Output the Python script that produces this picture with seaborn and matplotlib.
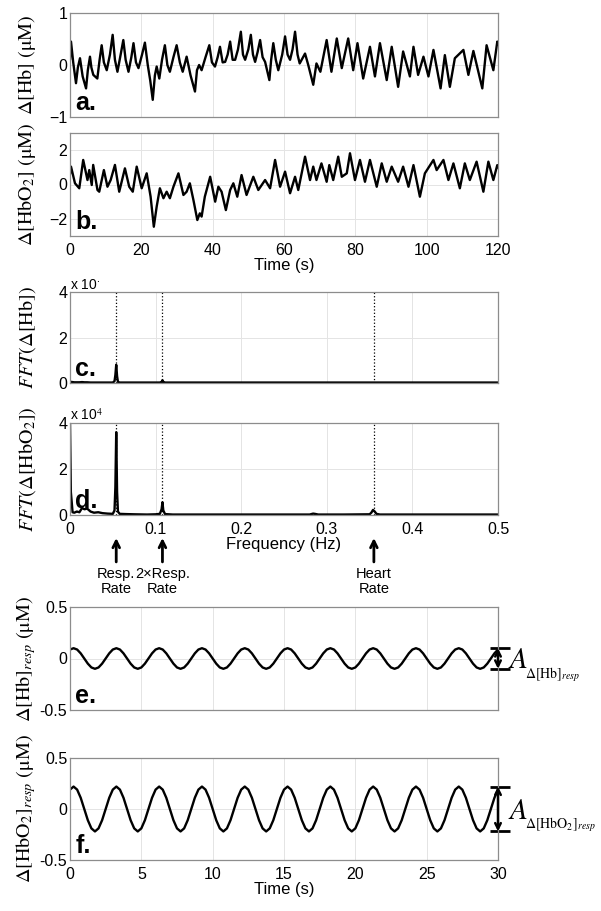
import matplotlib
matplotlib.use("Agg")
import matplotlib.pyplot as plt
import seaborn as sns

# ---- a./b. raw signals over 120 s ----
hb_t = [0.0, 0.28, 0.9, 1.68, 2.2, 2.8, 3.55, 4.5, 5.0, 5.6, 6.0, 6.54, 7.66, 8.3, 8.88,
        9.5, 10.3, 11.2, 11.96, 12.6, 13.3, 14.2, 14.95, 15.6, 16.4, 17.2, 17.8, 18.5,
        19.2, 20.2, 21.0, 21.8, 22.5, 23.2, 23.8, 24.3, 25.04, 25.8, 26.6, 27.3, 28.0,
        29.0, 29.9, 30.8, 31.6, 32.7, 33.8, 35.04, 35.6, 36.2, 36.9, 38.0, 39.06, 39.8,
        40.65, 41.4, 42.05, 42.8, 43.5, 44.2, 44.9, 45.6, 46.3, 47.1, 47.9, 48.5, 49.1,
        50.0, 50.7, 51.3, 51.9, 52.6, 53.3, 54.0, 54.7, 55.9, 56.4, 57.0, 57.7, 58.4,
        59.5, 60.3, 61.0, 61.7, 62.4, 63.1, 63.8, 64.4, 65.9, 66.8, 68.2, 69.1, 70.2,
        71.96, 73.3, 74.8, 76.2, 78.0, 79.4, 80.6, 82.2, 84.1, 85.5, 86.9, 88.8, 90.2,
        92.0, 93.4, 95.3, 96.3, 97.6, 99.1, 100.5, 101.9, 103.9, 105.1, 106.5, 107.9,
        110.3, 111.7, 113.1, 115.6, 116.8, 118.7, 119.8, 120.0]
hb_v = [0.1, 0.45, 0.05, -0.35, -0.05, 0.13, -0.22, -0.45, -0.1, 0.16, -0.05, -0.19, -0.26,
        0.1, 0.38, 0.05, -0.1, 0.2, 0.58, 0.1, -0.13, 0.2, 0.48, 0.1, -0.13, 0.15, 0.42,
        0.05, -0.06, 0.2, 0.43, 0.0, -0.3, -0.67, -0.2, -0.03, -0.26, 0.1, 0.38, 0.0, -0.13,
        0.15, 0.38, 0.05, -0.13, 0.16, -0.2, -0.51, -0.1, 0.0, -0.1, 0.15, 0.38, 0.05,
        -0.03, 0.15, 0.35, 0.05, 0.06, 0.2, 0.45, 0.1, 0.1, 0.3, 0.64, 0.2, 0.1, 0.3, 0.58,
        0.2, 0.06, 0.25, 0.48, 0.15, 0.06, -0.29, 0.1, 0.42, 0.1, -0.1, 0.2, 0.55, 0.2,
        0.1, 0.3, 0.64, 0.2, 0.03, 0.22, 0.0, -0.38, 0.03, -0.13, 0.48, -0.13, 0.51, -0.06,
        0.51, -0.1, 0.42, -0.26, 0.35, -0.22, 0.42, -0.29, 0.35, -0.42, 0.26, -0.22, 0.35,
        -0.19, 0.16, -0.22, 0.29, -0.45, 0.19, -0.42, 0.13, 0.29, -0.19, 0.27, -0.45, 0.38,
        -0.1, 0.45, 0.4]

hbo2_t = [0.0, 0.28, 1.4, 2.6, 3.7, 4.9, 5.4, 6.1, 6.5, 7.7, 8.2, 9.5, 10.5, 11.4, 12.6,
          13.8, 15.4, 16.6, 17.6, 18.7, 20.1, 21.5, 22.6, 23.5, 24.3, 25.2, 26.2, 27.1,
          28.0, 29.0, 30.4, 31.8, 32.7, 33.6, 34.6, 35.7, 36.4, 36.9, 37.8, 39.3, 40.7,
          41.6, 42.5, 43.7, 44.9, 45.8, 46.9, 48.1, 49.5, 51.4, 52.8, 54.7, 56.1, 57.5,
          58.9, 60.3, 61.7, 63.1, 64.0, 65.9, 67.3, 68.2, 69.1, 70.5, 71.96, 72.7, 73.8,
          75.2, 76.2, 77.6, 78.5, 79.9, 81.3, 82.7, 84.1, 86.0, 87.4, 88.8, 90.2, 92.0,
          93.4, 94.9, 96.3, 98.1, 99.5, 101.9, 102.8, 104.7, 106.1, 107.5, 109.3, 110.7,
          112.1, 114.0, 115.9, 117.3, 118.7, 119.8, 120.0]
hbo2_v = [0.6, 1.04, 0.07, -0.22, 1.43, 0.26, 0.84, -0.03, 1.14, -0.32, -0.42, 0.84, -0.13,
          0.26, 1.14, -0.42, 0.94, -0.13, -0.42, 1.04, -0.22, 0.65, -0.71, -2.46, -1.29,
          -0.22, -0.8, -0.42, -0.8, -0.13, 0.65, -0.61, -0.42, 0.07, -0.9, -2.07, -1.68,
          -1.87, -0.71, 0.45, -1.0, -0.13, -0.42, -1.49, -0.32, 0.07, -0.71, 0.55, -0.61,
          0.45, -0.32, 0.26, -0.22, 1.43, -0.13, 0.75, -0.51, 0.45, -0.32, 1.62, 0.26, 1.04,
          0.26, 1.23, 0.16, 1.13, 0.26, 1.62, 0.45, 0.65, 1.82, 0.26, 1.43, 0.16, 1.43,
          -0.13, 1.23, 0.16, 1.04, 0.16, 1.04, -0.13, 1.13, -0.71, 0.65, 1.43, 0.84, 1.43,
          0.26, 1.23, -0.22, 1.23, 0.26, 1.33, -0.42, 1.33, 0.26, 1.13, 1.0]

# ---- c./d. spectra ----
fft_freq = [0.0, 0.001, 0.003, 0.005, 0.008, 0.011, 0.014, 0.017, 0.02, 0.024, 0.028, 0.033,
            0.038, 0.044, 0.05, 0.052, 0.053, 0.054, 0.055, 0.056, 0.058, 0.065, 0.075, 0.09,
            0.1, 0.105, 0.107, 0.108, 0.109, 0.111, 0.12, 0.15, 0.2, 0.25, 0.28, 0.284, 0.286,
            0.29, 0.32, 0.35, 0.352, 0.354, 0.356, 0.358, 0.362, 0.4, 0.45, 0.5]
fft_hb = [0.06, 0.05, 0.04, 0.03, 0.03, 0.03, 0.04, 0.03, 0.03, 0.02, 0.02, 0.02, 0.02, 0.02,
          0.02, 0.08, 0.35, 0.8, 0.3, 0.05, 0.02, 0.02, 0.02, 0.02, 0.02, 0.02, 0.05, 0.12,
          0.05, 0.02, 0.02, 0.02, 0.02, 0.02, 0.02, 0.02, 0.02, 0.02, 0.02, 0.02, 0.02, 0.02,
          0.02, 0.02, 0.02, 0.02, 0.02, 0.02]
fft_hbo2 = [4.0, 1.0, 0.12, 0.1, 0.15, 0.12, 0.3, 0.25, 0.28, 0.15, 0.1, 0.12, 0.08, 0.06,
            0.05, 0.2, 1.2, 3.6, 1.0, 0.15, 0.05, 0.04, 0.03, 0.02, 0.03, 0.05, 0.25, 0.55,
            0.2, 0.04, 0.02, 0.02, 0.02, 0.02, 0.02, 0.06, 0.05, 0.02, 0.02, 0.03, 0.1, 0.22,
            0.15, 0.05, 0.02, 0.02, 0.02, 0.02]
peak_freqs = [0.054, 0.108, 0.355]
peak_names = ["Resp.\nRate", "2×Resp.\nRate", "Heart\nRate"]

# ---- e./f. respiratory components over 30 s ----
resp_t = [0.0, 0.25, 0.5, 0.75, 1.0, 1.25, 1.5, 1.75, 2.0, 2.25, 2.5, 2.75,
          3.0, 3.25, 3.5, 3.75, 4.0, 4.25, 4.5, 4.75, 5.0, 5.25, 5.5, 5.75,
          6.0, 6.25, 6.5, 6.75, 7.0, 7.25, 7.5, 7.75, 8.0, 8.25, 8.5, 8.75,
          9.0, 9.25, 9.5, 9.75, 10.0, 10.25, 10.5, 10.75, 11.0, 11.25, 11.5, 11.75,
          12.0, 12.25, 12.5, 12.75, 13.0, 13.25, 13.5, 13.75, 14.0, 14.25, 14.5, 14.75,
          15.0, 15.25, 15.5, 15.75, 16.0, 16.25, 16.5, 16.75, 17.0, 17.25, 17.5, 17.75,
          18.0, 18.25, 18.5, 18.75, 19.0, 19.25, 19.5, 19.75, 20.0, 20.25, 20.5, 20.75,
          21.0, 21.25, 21.5, 21.75, 22.0, 22.25, 22.5, 22.75, 23.0, 23.25, 23.5, 23.75,
          24.0, 24.25, 24.5, 24.75, 25.0, 25.25, 25.5, 25.75, 26.0, 26.25, 26.5, 26.75,
          27.0, 27.25, 27.5, 27.75, 28.0, 28.25, 28.5, 28.75, 29.0, 29.25, 29.5, 29.75,
          30.0]
hb_resp = [0.087, 0.1, 0.087, 0.05, 0.0, -0.05, -0.087, -0.1, -0.087, -0.05, 0.0, 0.05,
           0.087, 0.1, 0.087, 0.05, 0.0, -0.05, -0.087, -0.1, -0.087, -0.05, 0.0, 0.05,
           0.087, 0.1, 0.087, 0.05, 0.0, -0.05, -0.087, -0.1, -0.087, -0.05, 0.0, 0.05,
           0.087, 0.1, 0.087, 0.05, 0.0, -0.05, -0.087, -0.1, -0.087, -0.05, 0.0, 0.05,
           0.087, 0.1, 0.087, 0.05, 0.0, -0.05, -0.087, -0.1, -0.087, -0.05, 0.0, 0.05,
           0.087, 0.1, 0.087, 0.05, 0.0, -0.05, -0.087, -0.1, -0.087, -0.05, 0.0, 0.05,
           0.087, 0.1, 0.087, 0.05, 0.0, -0.05, -0.087, -0.1, -0.087, -0.05, 0.0, 0.05,
           0.087, 0.1, 0.087, 0.05, 0.0, -0.05, -0.087, -0.1, -0.087, -0.05, 0.0, 0.05,
           0.087, 0.1, 0.087, 0.05, 0.0, -0.05, -0.087, -0.1, -0.087, -0.05, 0.0, 0.05,
           0.087, 0.1, 0.087, 0.05, 0.0, -0.05, -0.087, -0.1, -0.087, -0.05, 0.0, 0.05,
           0.087]
hbo2_resp = [0.19, 0.22, 0.19, 0.11, 0.0, -0.11, -0.19, -0.22, -0.19, -0.11, 0.0, 0.11,
             0.19, 0.22, 0.19, 0.11, 0.0, -0.11, -0.19, -0.22, -0.19, -0.11, 0.0, 0.11,
             0.19, 0.22, 0.19, 0.11, 0.0, -0.11, -0.19, -0.22, -0.19, -0.11, 0.0, 0.11,
             0.19, 0.22, 0.19, 0.11, 0.0, -0.11, -0.19, -0.22, -0.19, -0.11, 0.0, 0.11,
             0.19, 0.22, 0.19, 0.11, 0.0, -0.11, -0.19, -0.22, -0.19, -0.11, 0.0, 0.11,
             0.19, 0.22, 0.19, 0.11, 0.0, -0.11, -0.19, -0.22, -0.19, -0.11, 0.0, 0.11,
             0.19, 0.22, 0.19, 0.11, 0.0, -0.11, -0.19, -0.22, -0.19, -0.11, 0.0, 0.11,
             0.19, 0.22, 0.19, 0.11, 0.0, -0.11, -0.19, -0.22, -0.19, -0.11, 0.0, 0.11,
             0.19, 0.22, 0.19, 0.11, 0.0, -0.11, -0.19, -0.22, -0.19, -0.11, 0.0, 0.11,
             0.19, 0.22, 0.19, 0.11, 0.0, -0.11, -0.19, -0.22, -0.19, -0.11, 0.0, 0.11,
             0.19]
hb_amp = 0.1
hbo2_amp = 0.22

# tick labels
time120_ticks = [0, 20, 40, 60, 80, 100, 120]
freq_ticks = [0, 0.1, 0.2, 0.3, 0.4, 0.5]
freq_labels = ["0", "0.1", "0.2", "0.3", "0.4", "0.5"]
time30_ticks = [0, 5, 10, 15, 20, 25, 30]
resp_yticks = [-0.5, 0, 0.5]
resp_ylabels = ["-0.5", "0", "0.5"]

sns.set_theme(style="whitegrid")
plt.rcParams["font.family"] = ["Liberation Sans", "DejaVu Sans"]
plt.rcParams["mathtext.fontset"] = "stix"
plt.rcParams["axes.edgecolor"] = "#8c8c8c"
plt.rcParams["axes.linewidth"] = 0.9
plt.rcParams["grid.color"] = "#e4e4e4"
plt.rcParams["grid.linewidth"] = 0.7
for key in ["text.color", "axes.labelcolor", "xtick.color", "ytick.color"]:
    plt.rcParams[key] = "black"

SERIF = ["STIXGeneral", "DejaVu Serif"]
W, H = 601, 911
fig = plt.figure(figsize=(W / 100, H / 100), dpi=100)


def panel(top, bottom):
    ax = fig.add_axes([70 / W, 1 - bottom / H, 428 / W, (bottom - top) / H])
    ax.set_facecolor("white")
    ax.tick_params(length=0, labelsize=11.5)
    ax.tick_params(axis="x", pad=5)
    ax.tick_params(axis="y", pad=2)
    return ax


def label(ax, text, letter):
    ax.set_ylabel(text, fontsize=14.5, family=SERIF)
    ax.yaxis.set_label_coords(-0.075, 0.5)
    ax.text(0.012, 0.02, letter, transform=ax.transAxes, fontsize=18,
            fontweight="bold", ha="left", va="bottom")


line_kw = dict(color="black", linewidth=1.7)

# a.
ax_a = panel(13, 117)
sns.lineplot(x=hb_t, y=hb_v, ax=ax_a, **line_kw)
ax_a.set(xlim=(0, 120), ylim=(-1, 1), xticks=time120_ticks, yticks=[-1, 0, 1])
ax_a.set_xticklabels([])
label(ax_a, r"$\Delta\left[\mathrm{Hb}\right]$ (μM)", "a.")

# b.
ax_b = panel(133, 236)
sns.lineplot(x=hbo2_t, y=hbo2_v, ax=ax_b, **line_kw)
ax_b.set(xlim=(0, 120), ylim=(-3, 3), xticks=time120_ticks, yticks=[-2, 0, 2])
ax_b.set_xlabel("Time (s)", fontsize=12, labelpad=0)
label(ax_b, r"$\Delta\left[\mathrm{HbO_2}\right]$ (μM)", "b.")

# c. / d.
for top, bottom, vals, name, letter, expo in [
        (292, 383, fft_hb, r"$FFT\left(\Delta\left[\mathrm{Hb}\right]\right)$", "c.", "x 10$^{\\cdot}$"),
        (423, 515, fft_hbo2, r"$FFT\left(\Delta\left[\mathrm{HbO_2}\right]\right)$", "d.", "x 10$^4$")]:
    ax = panel(top, bottom)
    sns.lineplot(x=fft_freq, y=vals, ax=ax, **line_kw)
    for f in peak_freqs:
        ax.axvline(f, color="black", linestyle=":", linewidth=0.9)
    ax.set(xlim=(0, 0.5), ylim=(0, 4), xticks=freq_ticks, yticks=[0, 2, 4])
    ax.text(0.0, 1.0, expo, transform=ax.transAxes, fontsize=10, ha="left", va="bottom")
    label(ax, name, letter)
    if letter == "c.":
        ax.set_xticklabels([])
    else:
        ax.set_xticklabels(freq_labels)
        ax.set_xlabel("Frequency (Hz)", fontsize=12, labelpad=0)
        ax_d = ax

for f, txt in zip(peak_freqs, peak_names):
    ax_d.annotate("", xy=(f, -0.25), xytext=(f, -0.51),
                  xycoords=("data", "axes fraction"),
                  textcoords=("data", "axes fraction"),
                  arrowprops=dict(arrowstyle="->", color="black", lw=2,
                                  mutation_scale=12, shrinkA=0, shrinkB=0),
                  annotation_clip=False)
    ax_d.text(f, -0.56, txt, transform=ax_d.get_xaxis_transform(), ha="center",
              va="top", fontsize=10.5, linespacing=1.15)

# e. / f.
for top, bottom, vals, amp, name, sub, letter in [
        (607, 710, hb_resp, hb_amp, r"$\Delta\left[\mathrm{Hb}\right]_{resp}$ (μM)",
         r"$\Delta\left[\mathrm{Hb}\right]_{resp}$", "e."),
        (758, 860, hbo2_resp, hbo2_amp, r"$\Delta\left[\mathrm{HbO_2}\right]_{resp}$ (μM)",
         r"$\Delta\left[\mathrm{HbO_2}\right]_{resp}$", "f.")]:
    ax = panel(top, bottom)
    sns.lineplot(x=resp_t, y=vals, ax=ax, **line_kw)
    ax.set(xlim=(0, 30), ylim=(-0.5, 0.5), xticks=time30_ticks, yticks=resp_yticks)
    ax.set_yticklabels(resp_ylabels)
    label(ax, name, letter)
    trans = ax.get_yaxis_transform()
    ax.hlines([amp, -amp], 0.981, 1.028, transform=trans, color="black", lw=2, clip_on=False)
    ax.annotate("", xy=(1.0, amp), xytext=(1.0, -amp), xycoords=trans, textcoords=trans,
                arrowprops=dict(arrowstyle="<->", color="black", lw=1.8,
                                mutation_scale=10, shrinkA=0, shrinkB=0),
                annotation_clip=False)
    # amplitude symbol: large italic A with its subscript beside it
    ax.annotate("A", xy=(1.026, 0), xycoords=trans, xytext=(0, -7),
                textcoords="offset points", fontsize=21, style="italic",
                family=SERIF, ha="left", va="baseline", annotation_clip=False)
    ax.annotate(sub, xy=(1.026, 0), xycoords=trans, xytext=(11.5, -14),
                textcoords="offset points", fontsize=10, family=SERIF,
                ha="left", va="baseline", annotation_clip=False)
    if letter == "e.":
        ax.set_xticklabels([])
    else:
        ax.set_xlabel("Time (s)", fontsize=12, labelpad=0)

fig.savefig("out.png", dpi=100)
